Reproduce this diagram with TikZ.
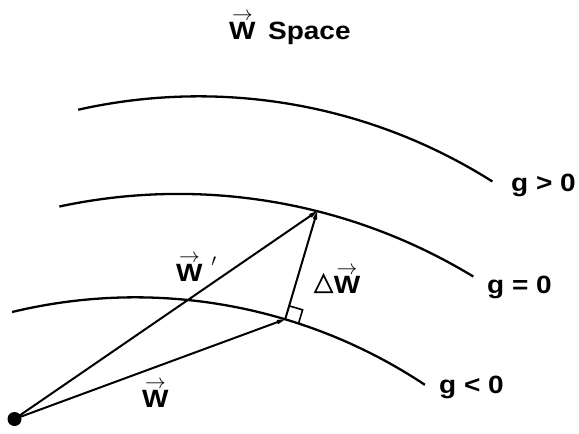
\documentclass[tikz,border=0pt]{standalone}
\usepackage{fontspec}
\setmainfont{Liberation Sans}[FakeStretch=1.12]
\usetikzlibrary{arrows.meta,calc}
\newcommand{\myvecw}{\setbox0\hbox{W}\vbox{\offinterlineskip\hbox to\wd0{\hss\fontsize{20}{20}\selectfont$\rightarrow$\hss}\kern1pt\box0}}
\newcommand{\mytri}{\tikz[x=1pt,y=1pt,baseline=0pt]\draw[line width=1.7pt,line join=miter] (0,0.85) -- (17,0.85) -- (8.5,18) -- cycle;}
\begin{document}
\begin{tikzpicture}[x=1pt,y=1pt,
  curve/.style={line width=2.3pt},
  vecline/.style={line width=2pt,-{Stealth[length=22pt,width=12pt,inset=14pt]}},
  lbl/.style={font=\fontsize{25}{30}\selectfont\bfseries,inner sep=0pt,anchor=base west},
  dot/.style={circle,fill=black,inner sep=0pt,minimum size=14pt}]
\useasboundingbox (0,0) rectangle (579,-434);
% iso-curves
\draw[curve] (198.7,-645.3) ++(102.68:549) arc[start angle=102.68,end angle=57.66,radius=549];
\draw[curve] (178.3,-761.9) ++(102.09:568) arc[start angle=102.09,end angle=58.71,radius=568];
\draw[curve] (135.2,-820.8) ++(103.6:523.5) arc[start angle=103.6,end angle=56.4,radius=523.5];
% points
\node[dot] (o) at (14.5,-419) {};
\coordinate (p) at ($(135.2,-820.8)+(73.35:523.5)$);
\coordinate (q) at ($(178.3,-761.9)+(75.84:568)$);
% right-angle mark
\draw[line width=1.6pt] ($(p)!14pt!(q)$) -- ++(-16.5:14) -- ($(p)+(-16.5:14)$);
% vectors
\draw[vecline] (o.center) -- (p);
\draw[vecline] (o.center) -- (q);
\draw[vecline] (p) -- (q);
% labels
\node[lbl] (title) at (229,-39) {\myvecw\hspace{0.5em}Space};
\node[lbl] (gp) at (511,-191) {g > 0};
\node[lbl] (gz) at (487,-293) {g = 0};
\node[lbl] (gn) at (439,-393) {g < 0};
\node[lbl] (wl) at (142,-407) {\myvecw};
\node[lbl] (wpl) at (176,-281) {\myvecw\hspace{0.35em}\raisebox{0.6em}{\fontsize{18}{18}\selectfont$\prime$}};
\node[lbl] (dwl) at (314,-293) {\mytri\hspace{1pt}\myvecw};
\end{tikzpicture}
\end{document}
